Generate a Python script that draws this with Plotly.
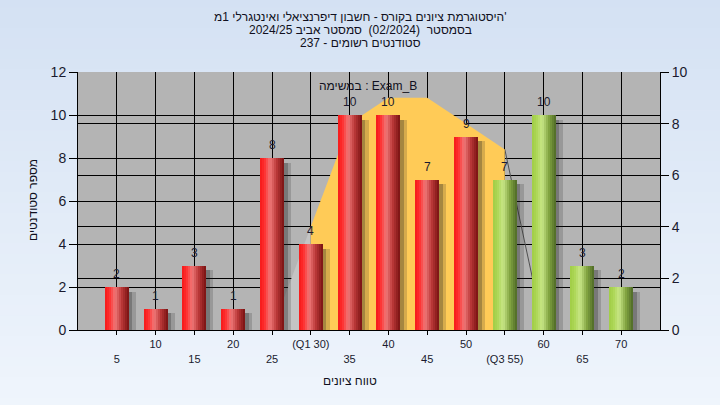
import plotly.graph_objects as go

# ---------------- data ----------------
categories = [5, 10, 15, 20, 25, 30, 35, 40, 45, 50, 55, 60, 65, 70]
counts = [2, 1, 3, 1, 8, 4, 10, 10, 7, 9, 7, 10, 3, 2]
tick_labels = ["5", "10", "15", "20", "25", "(Q1 30)", "35", "40", "45", "50",
               "(Q3 55)", "60", "65", "70"]
q1_value = 30
q3_value = 55
# shaded distribution curve (right axis units)
curve_x = [25, 30, 35, 40, 45, 50, 55, 60]
curve_y = [0, 4, 8, 9, 9, 8, 7, 0]

title_lines = [
    "היסטוגרמת ציונים בקורס - חשבון דיפרנציאלי ואינטגרלי 1מ'",
    "בסמסטר  (02/2024)  סמסטר אביב 2024/25",
    "סטודנטים רשומים - 237",
]
subtitle_text = "במשימה : Exam_B"
x_title = "טווח ציונים"
y_title = "מספר סטודנטים"

# ---------------- styling helpers ----------------
W, H = 720, 405
L, R, T, B = 78, 60, 72, 75
PW, PH = W - L - R, H - T - B
FONT = "Liberation Sans, Arial, sans-serif"
TXT = "#1a1a2e"


def px_x(p):
    return (p - L) / PW


def px_y(p):
    return (H - B - p) / PH


def lerp_stops(stops, t):
    for (t0, c0), (t1, c1) in zip(stops[:-1], stops[1:]):
        if t0 <= t <= t1:
            f = (t - t0) / (t1 - t0)
            return tuple(int(round(a + (b - a) * f)) for a, b in zip(c0, c1))
    return stops[-1][1]


red_stops = [(0.0, (245, 25, 25)), (0.18, (255, 45, 45)), (0.42, (240, 120, 120)),
             (0.7, (185, 55, 55)), (1.0, (120, 18, 18))]
green_stops = [(0.0, (160, 205, 70)), (0.18, (172, 214, 84)), (0.42, (200, 230, 135)),
               (0.7, (130, 165, 65)), (1.0, (78, 105, 38))]

fig = go.Figure()

# ---- distribution shading (right axis) ----
i_q1 = curve_x.index(q1_value)
i_q3 = curve_x.index(q3_value)
fig.add_trace(go.Scatter(x=curve_x[:i_q1 + 1], y=curve_y[:i_q1 + 1], yaxis="y2",
                         mode="lines", fill="tozeroy", fillcolor="#c4c4c4",
                         line=dict(width=0), hoverinfo="skip", showlegend=False))
fig.add_trace(go.Scatter(x=curve_x[i_q3:], y=curve_y[i_q3:], yaxis="y2",
                         mode="lines",
                         line=dict(width=1, color="#505050"), hoverinfo="skip",
                         showlegend=False))
fig.add_trace(go.Scatter(x=curve_x[i_q1:i_q3 + 1], y=curve_y[i_q1:i_q3 + 1], yaxis="y2",
                         mode="lines", fill="tozeroy", fillcolor="#ffcb57",
                         line=dict(width=0), hoverinfo="skip", showlegend=False))

# ---- bars (left axis) ----
bar_w = 3.1
shadow_h = [max(v - 0.22, 0) for v in counts]
fig.add_trace(go.Bar(x=categories, y=shadow_h, width=0.45, offset=bar_w / 2,
                     marker=dict(color="rgba(30,30,30,0.40)", line=dict(width=0)),
                     hoverinfo="skip", showlegend=False))
fig.add_trace(go.Bar(x=categories, y=shadow_h, width=0.45, offset=bar_w / 2 + 0.45,
                     marker=dict(color="rgba(30,30,30,0.18)", line=dict(width=0)),
                     hoverinfo="skip", showlegend=False))

N = 12
for i in range(N):
    t = (i + 0.5) / N
    cols = []
    for c in categories:
        rgb = lerp_stops(green_stops if c >= q3_value else red_stops, t)
        cols.append("rgb(%d,%d,%d)" % rgb)
    fig.add_trace(go.Bar(x=categories, y=counts, width=bar_w / N * 1.02,
                         offset=-bar_w / 2 + i * bar_w / N,
                         marker=dict(color=cols, line=dict(width=0)),
                         hoverinfo="skip", showlegend=False))

# ---- background gradient ----
shapes = []
NS = 40
y_lo, y_hi = -B / PH - 0.01, 1 + T / PH + 0.01
x_lo, x_hi = -L / PW - 0.01, 1 + R / PW + 0.01
c_top, c_bot = (212, 225, 243), (239, 245, 252)
for k in range(NS):
    f = k / (NS - 1)
    col = tuple(int(round(a + (b - a) * f)) for a, b in zip(c_top, c_bot))
    y1 = y_hi - (y_hi - y_lo) * k / NS
    y0 = y_hi - (y_hi - y_lo) * (k + 1) / NS - 0.002
    shapes.append(dict(type="rect", xref="paper", yref="paper", x0=x_lo, x1=x_hi,
                       y0=y0, y1=y1, fillcolor="rgb(%d,%d,%d)" % col,
                       line=dict(width=0), layer="below"))
shapes.append(dict(type="rect", xref="paper", yref="paper", x0=0, x1=1, y0=0, y1=1,
                   fillcolor="#b4b4b4", line=dict(width=0), layer="below"))

# ---- annotations ----
annotations = []
for c, v in zip(categories, counts):
    annotations.append(dict(x=c, y=v, xref="x", yref="y", text=str(v), showarrow=False,
                            yshift=13, font=dict(family=FONT, size=12, color=TXT)))
for line, py in zip(title_lines, [17, 30, 43]):
    annotations.append(dict(x=px_x(360), y=px_y(py), xref="paper", yref="paper",
                            text=line, showarrow=False, xanchor="center", yanchor="middle",
                            font=dict(family=FONT, size=12, color="#101020")))
annotations.append(dict(x=px_x(368), y=px_y(86), xref="paper", yref="paper",
                        text=subtitle_text, showarrow=False, yanchor="middle",
                        font=dict(family=FONT, size=12, color="#101020")))
annotations.append(dict(x=px_x(350), y=px_y(381), xref="paper", yref="paper",
                        text=x_title, showarrow=False, yanchor="middle",
                        font=dict(family=FONT, size=12, color="#101020")))
annotations.append(dict(x=px_x(33), y=px_y(200), xref="paper", yref="paper",
                        text=y_title, showarrow=False, textangle=-90,
                        xanchor="center", yanchor="middle",
                        font=dict(family=FONT, size=12, color="#101020")))

tick_text = [lab if i % 2 == 1 else " <br>" + lab for i, lab in enumerate(tick_labels)]

fig.update_layout(
    width=W, height=H,
    margin=dict(l=L, r=R, t=T, b=B),
    paper_bgcolor="#e2ebf7",
    plot_bgcolor="#b4b4b4",
    barmode="overlay",
    bargap=0,
    showlegend=False,
    font=dict(family=FONT, color=TXT),
    shapes=shapes,
    annotations=annotations,
    xaxis=dict(range=[0, 75], tickmode="array", tickvals=categories, ticktext=tick_text,
               showgrid=True, gridcolor="black", gridwidth=1, zeroline=False,
               showline=True, linecolor="black", linewidth=1,
               ticks="outside", ticklen=4, tickcolor="black",
               tickfont=dict(family=FONT, size=11, color=TXT), fixedrange=True),
    yaxis=dict(range=[0, 12], dtick=2, overlaying="y2", side="left",
               showgrid=True, gridcolor="black", gridwidth=1, zeroline=False,
               showline=True, linecolor="black", linewidth=1,
               ticks="outside", ticklen=8, tickcolor="black",
               tickfont=dict(family=FONT, size=14, color=TXT)),
    yaxis2=dict(range=[0, 10], dtick=2, side="right", anchor="x",
                showgrid=True, gridcolor="black", gridwidth=1, zeroline=False,
                showline=True, linecolor="black", linewidth=1,
                ticks="outside", ticklen=8, tickcolor="black",
                tickfont=dict(family=FONT, size=14, color=TXT)),
)

fig.write_html("out.html", post_script="document.body.style.margin='0';",
               config={"displayModeBar": False})
